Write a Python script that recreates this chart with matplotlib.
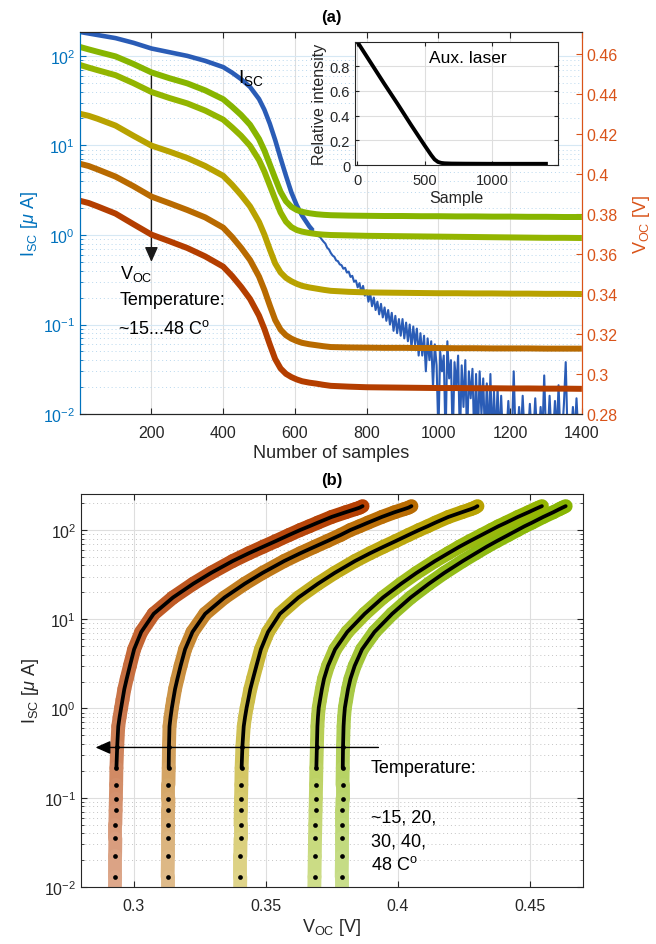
import numpy as np
import matplotlib
matplotlib.use('Agg')
import matplotlib.pyplot as plt
from matplotlib.collections import LineCollection
from matplotlib.ticker import LogLocator, NullFormatter, FuncFormatter, FixedLocator
import matplotlib.colors as mcolors

plt.rcParams['font.family'] = ['Liberation Sans', 'DejaVu Sans']
plt.rcParams['mathtext.fontset'] = 'custom'
plt.rcParams['mathtext.rm'] = 'Liberation Sans'
plt.rcParams['mathtext.it'] = 'Liberation Sans:italic'
plt.rcParams['mathtext.bf'] = 'Liberation Sans:bold'

# ---------------- data ----------------
samples = [1, 25, 50, 100, 150, 200, 250, 300, 350, 400,
           425, 450, 475, 500,
           515, 530, 545, 560, 575, 590, 605, 620,
           640, 660, 680, 700,
           750, 800, 850, 900, 950, 1000, 1050, 1100, 1150, 1200, 1250, 1300, 1350, 1400]
isc = [185, 178, 171, 158, 140, 121, 110, 100, 88, 75,
       65, 55, 45, 33,
       25, 17.5, 11.5, 7.2, 4.6, 3.0, 2.15, 1.65,
       1.25, 1.02, 0.80, 0.63,
       0.375, 0.215, 0.14, 0.098, 0.072, 0.05, 0.035, 0.022, 0.013, 0.008, 0.006, 0.005, 0.005, 0.005]

voc_15 = [0.4635, 0.4623, 0.4611, 0.4588, 0.4550, 0.4508, 0.4479, 0.4453, 0.4418, 0.4374,
          0.4336, 0.4295, 0.4246, 0.4175,
          0.4117, 0.4048, 0.3978, 0.3911, 0.3864, 0.3836, 0.3820, 0.3811,
          0.3804, 0.3799, 0.3796, 0.3794,
          0.3792, 0.3791, 0.379, 0.379, 0.3789, 0.3789, 0.3788, 0.3788, 0.3787, 0.3787, 0.3786, 0.3786, 0.3785, 0.3785]
voc_20 = [0.4545, 0.4532, 0.4519, 0.4494, 0.4454, 0.4410, 0.4380, 0.4353, 0.4317, 0.4272,
          0.4233, 0.4191, 0.4141, 0.4070,
          0.4012, 0.3943, 0.3874, 0.3808, 0.3762, 0.3735, 0.3720, 0.3712,
          0.3705, 0.3700, 0.3697, 0.3695,
          0.3693, 0.3691, 0.369, 0.3689, 0.3688, 0.3687, 0.3686, 0.3685, 0.3684, 0.3683, 0.3682, 0.3681, 0.3681, 0.368]
voc_30 = [0.4301, 0.4291, 0.4276, 0.4242, 0.4191, 0.4142, 0.4112, 0.4080, 0.4040, 0.3991,
          0.3946, 0.3895, 0.3838, 0.3760,
          0.3697, 0.3623, 0.3553, 0.3508, 0.3481, 0.3464, 0.3451, 0.3441,
          0.3433, 0.3427, 0.3421, 0.3416,
          0.3411, 0.3408, 0.3407, 0.3406, 0.3405, 0.3404, 0.3404, 0.3403, 0.3403, 0.3402, 0.3402, 0.3401, 0.3401, 0.3400]
voc_40 = [0.4051, 0.4040, 0.4023, 0.3987, 0.3939, 0.3887, 0.3854, 0.3820, 0.3783, 0.3732,
          0.3685, 0.3631, 0.3570, 0.3487,
          0.3420, 0.3343, 0.3270, 0.3222, 0.3194, 0.3177, 0.3165, 0.3156,
          0.3149, 0.3144, 0.3139, 0.3135,
          0.3133, 0.3132, 0.3131, 0.3131, 0.313, 0.313, 0.3129, 0.3129, 0.3128, 0.3128, 0.3128, 0.3127, 0.3127, 0.3127]
voc_48 = [0.3866, 0.3855, 0.3838, 0.3802, 0.3749, 0.3697, 0.3664, 0.3630, 0.3588, 0.3537,
          0.3490, 0.3436, 0.3375, 0.3292,
          0.3225, 0.3148, 0.3075, 0.3028, 0.3001, 0.2985, 0.2973, 0.2964,
          0.2957, 0.2952, 0.2946, 0.2941,
          0.2937, 0.2934, 0.2933, 0.2932, 0.2931, 0.293, 0.293, 0.2929, 0.2929, 0.2928, 0.2928, 0.2927, 0.2927, 0.2926]

# noisy short-circuit current, samples 650..1400 every 5
noisy_samples = list(range(650, 1401, 5))
isc_noisy = [
    1.12, 1.06, 1.04, 0.97, 0.95, 0.89, 0.84, 0.80, 0.72, 0.69,
    0.63, 0.59, 0.57, 0.52, 0.51, 0.47, 0.46, 0.42, 0.43, 0.38,
    0.39, 0.34, 0.35, 0.30, 0.31, 0.26, 0.29, 0.23, 0.27, 0.21,
    0.24, 0.18, 0.22, 0.16, 0.20, 0.145, 0.18, 0.13, 0.17, 0.12,
    0.155, 0.11, 0.145, 0.10, 0.135, 0.085, 0.125, 0.08, 0.115, 0.075,
    0.115, 0.07, 0.105, 0.065, 0.10, 0.055, 0.095, 0.06, 0.09, 0.045,
    0.08, 0.045, 0.075, 0.03, 0.07, 0.04, 0.065, 0.02, 0.06, 0.035,
    0.006, 0.05, 0.03, 0.045, 0.005, 0.065, 0.025, 0.04, 0.005, 0.038,
    0.02, 0.045, 0.005, 0.035, 0.012, 0.04, 0.005, 0.03, 0.015, 0.032,
    0.005, 0.028, 0.005, 0.03, 0.01, 0.025, 0.005, 0.022, 0.005, 0.028,
    0.005, 0.018, 0.005, 0.02, 0.005, 0.016, 0.005, 0.006, 0.006, 0.014,
    0.006, 0.006, 0.03, 0.006, 0.006, 0.012, 0.006, 0.016, 0.006, 0.006,
    0.006, 0.013, 0.006, 0.006, 0.015, 0.006, 0.006, 0.012, 0.006, 0.027,
    0.006, 0.006, 0.016, 0.006, 0.006, 0.014, 0.006, 0.021, 0.006, 0.006,
    0.013, 0.038, 0.006, 0.006, 0.006, 0.012, 0.006, 0.015, 0.006, 0.006,
    0.006]

inset_samples = [0, 100, 200, 300, 400, 500, 550, 575, 600, 625, 650, 700, 800, 1000, 1200, 1400]
inset_intensity = [1.0, 0.83, 0.66, 0.495, 0.325, 0.16, 0.08, 0.045, 0.025, 0.017, 0.014, 0.012, 0.011, 0.01, 0.01, 0.01]

voc_series = [voc_15, voc_20, voc_30, voc_40, voc_48]
series_colors = ['#87b500', '#93b500', '#b8a200', '#b86a00', '#b43e00']

top_xticks = [200, 400, 600, 800, 1000, 1200, 1400]
right_yticks = [0.28, 0.30, 0.32, 0.34, 0.36, 0.38, 0.40, 0.42, 0.44, 0.46]
bottom_xticks = [0.30, 0.35, 0.40, 0.45]

BLUE_AX = '#0072bd'
ORANGE_AX = '#d95319'
DARK = '#262626'
ISC_COLOR = '#2a5cb6'

gfmt = FuncFormatter(lambda v, p: f'{v:g}')

fig = plt.figure(figsize=(6.56, 9.45), dpi=100)

# ---------------- panel (a) ----------------
ax1 = fig.add_axes([0.122, 0.5608, 0.765, 0.4043])
ax1.set_yscale('log')
ax1.set_xlim(1, 1400)
ax1.set_ylim(0.01, 185)
ax1.set_axisbelow(True)

n_smooth = samples.index(640) + 1
ax1.plot(samples[:n_smooth] + [650], isc[:n_smooth] + [isc_noisy[0]], color=ISC_COLOR, lw=3.3,
         solid_capstyle='butt', solid_joinstyle='round', zorder=2)
n = min(len(noisy_samples), len(isc_noisy))
ax1.plot(noisy_samples[:n], isc_noisy[:n], color=ISC_COLOR, lw=1.5, zorder=2)

ax1.grid(axis='x', which='major', color='#dedede', lw=0.8)
ax1.grid(axis='y', which='major', color='#d6e8f4', lw=0.8)
ax1.yaxis.set_minor_locator(LogLocator(base=10, subs=np.arange(2, 10) * 1.0, numticks=20))
ax1.yaxis.set_minor_formatter(NullFormatter())
ax1.grid(axis='y', which='minor', color='#b9d8ee', lw=0.7, linestyle=(0, (1, 3)))

ax1.xaxis.set_major_locator(FixedLocator(top_xticks))
ax1.tick_params(axis='x', which='both', direction='in', top=True, colors=DARK, labelsize=11.5, length=4, pad=8)
ax1.tick_params(axis='y', which='major', direction='in', colors=BLUE_AX, labelsize=11.5, length=4)
ax1.tick_params(axis='y', which='minor', direction='in', colors=BLUE_AX, length=2.2)
for s in ['top', 'bottom']:
    ax1.spines[s].set_color(DARK)
ax1.spines['left'].set_color(BLUE_AX)
ax1.spines['right'].set_color(ORANGE_AX)
ax1.set_xlabel('Number of samples', fontsize=13, color=DARK, labelpad=3)
ax1.set_ylabel('I$_{\\mathregular{SC}}$ [$\\mu$ A]', fontsize=13, color=BLUE_AX, labelpad=2)
ax1.set_title('(a)', fontweight='bold', fontsize=12, pad=8)

ax2 = ax1.twinx()
ax2.set_ylim(0.28, 0.471)
for v, c in zip(voc_series, series_colors):
    ax2.plot(samples, v, color=c, lw=4.3, solid_capstyle='butt', solid_joinstyle='round')
ax2.yaxis.set_major_locator(FixedLocator(right_yticks))
ax2.yaxis.set_major_formatter(gfmt)
ax2.tick_params(axis='y', direction='in', colors=ORANGE_AX, labelsize=11.5, length=4)
ax2.spines['right'].set_color(ORANGE_AX)
ax2.spines['left'].set_color(BLUE_AX)
ax2.spines['top'].set_color(DARK)
ax2.spines['bottom'].set_color(DARK)
ax2.set_ylabel('V$_{\\mathregular{OC}}$ [V]', fontsize=13, color=ORANGE_AX, labelpad=9)

ax1.text(0.315, 0.882, 'I$_{\\mathregular{SC}}$', transform=ax1.transAxes, fontsize=14,
         ha='left', va='center', color='black')
ax1.annotate('', xy=(200, 0.50), xytext=(200, 60),
             arrowprops=dict(arrowstyle='-|>,head_length=0.45,head_width=0.2', color='#1a1a1a',
                             lw=1.0, mutation_scale=20, shrinkA=0, shrinkB=0))
ax1.text(0.079, 0.37, 'V$_{\\mathregular{OC}}$', transform=ax1.transAxes, fontsize=13, ha='left', va='center')
ax1.text(0.079, 0.301, 'Temperature:', transform=ax1.transAxes, fontsize=13, ha='left', va='center')
ax1.text(0.076, 0.226, '~15...48 C$^{\\mathregular{o}}$', transform=ax1.transAxes, fontsize=13,
         ha='left', va='center')

# inset
axin = fig.add_axes([0.5412, 0.8243, 0.3095, 0.1302])
axin.plot(inset_samples, inset_intensity, color='black', lw=2.8)
axin.set_xlim(-15, 1490)
axin.set_ylim(0, 0.995)
axin.set_xticks([0, 500, 1000])
axin.set_yticks([0, 0.2, 0.4, 0.6, 0.8])
axin.yaxis.set_major_formatter(gfmt)
axin.grid(True, color='#dedede', lw=0.8)
axin.set_axisbelow(True)
axin.tick_params(direction='in', top=True, right=True, labelsize=10.5, length=3, colors=DARK)
axin.tick_params(axis='x', pad=6)
for s in axin.spines.values():
    s.set_color(DARK)
axin.set_xlabel('Sample', fontsize=11.5, labelpad=2, color=DARK)
axin.set_ylabel('Relative intensity', fontsize=11.5, labelpad=2, color=DARK)
axin.text(0.557, 0.878, 'Aux. laser', transform=axin.transAxes, fontsize=12.5, ha='center', va='center')

# ---------------- panel (b) ----------------
ax3 = fig.add_axes([0.1235, 0.0603, 0.765, 0.4159])
ax3.set_yscale('log')
ax3.set_xlim(0.28, 0.47)
ax3.set_ylim(0.01, 253)
ax3.set_axisbelow(True)
ax3.grid(which='major', color='#dedede', lw=0.8)
ax3.yaxis.set_minor_locator(LogLocator(base=10, subs=np.arange(2, 10) * 1.0, numticks=20))
ax3.yaxis.set_minor_formatter(NullFormatter())
ax3.grid(axis='y', which='minor', color='#c4c4c4', lw=0.7, linestyle=(0, (1, 3)))

isc_arr = np.array(isc, dtype=float)
t = np.clip((np.log10(isc_arr) + 2.0) / 4.3, 0, 1)
for v, c in zip(voc_series, series_colors):
    pts = np.column_stack([v, isc_arr])
    segs = [pts[k:k + 2] for k in range(len(pts) - 1)]
    rgb = np.array(mcolors.to_rgb(c))
    cols = []
    for k in range(len(pts) - 1):
        tm = 0.5 * (t[k] + t[k + 1])
        w = 0.55 * (1 - tm)
        cols.append(tuple((1 - w) * rgb + w))
    lc = LineCollection(segs, colors=cols, linewidths=10, capstyle='round', joinstyle='round', zorder=2)
    ax3.add_collection(lc)

samp_arr = np.array(samples)
line_mask = samp_arr <= 800
dot_mask = samp_arr >= 750
for v in voc_series:
    va = np.array(v)
    ax3.plot(va[line_mask], isc_arr[line_mask], color='black', lw=2.7, solid_capstyle='round',
             solid_joinstyle='round', zorder=3)
    ax3.plot(va[dot_mask], isc_arr[dot_mask], 'o', color='black', ms=3.4, mec='none', zorder=3)

ax3.xaxis.set_major_locator(FixedLocator(bottom_xticks))
ax3.xaxis.set_major_formatter(gfmt)
ax3.tick_params(which='major', direction='in', top=True, right=True, labelsize=11.5, length=4, colors=DARK)
ax3.tick_params(axis='x', pad=8)
ax3.tick_params(which='minor', direction='in', top=False, right=True, length=2.2, colors=DARK)
for s in ax3.spines.values():
    s.set_color(DARK)
ax3.set_xlabel('V$_{\\mathregular{OC}}$ [V]', fontsize=13, color=DARK, labelpad=2)
ax3.set_ylabel('I$_{\\mathregular{SC}}$ [$\\mu$ A]', fontsize=13, color=DARK, labelpad=2)
ax3.set_title('(b)', fontweight='bold', fontsize=12, pad=7)

ax3.annotate('', xy=(0.2855, 0.366), xytext=(0.3926, 0.366),
             arrowprops=dict(arrowstyle='-|>,head_length=0.45,head_width=0.2', color='black',
                             lw=1.0, mutation_scale=20, shrinkA=0, shrinkB=0), zorder=4)
for txt, yf in [('Temperature:', 0.305), ('~15, 20,', 0.178), ('30, 40,', 0.117),
                ('48 C$^{\\mathregular{o}}$', 0.0585)]:
    ax3.text(0.578, yf, txt, transform=ax3.transAxes, fontsize=13, ha='left', va='center', zorder=5)

fig.savefig('out.png', dpi=100)
